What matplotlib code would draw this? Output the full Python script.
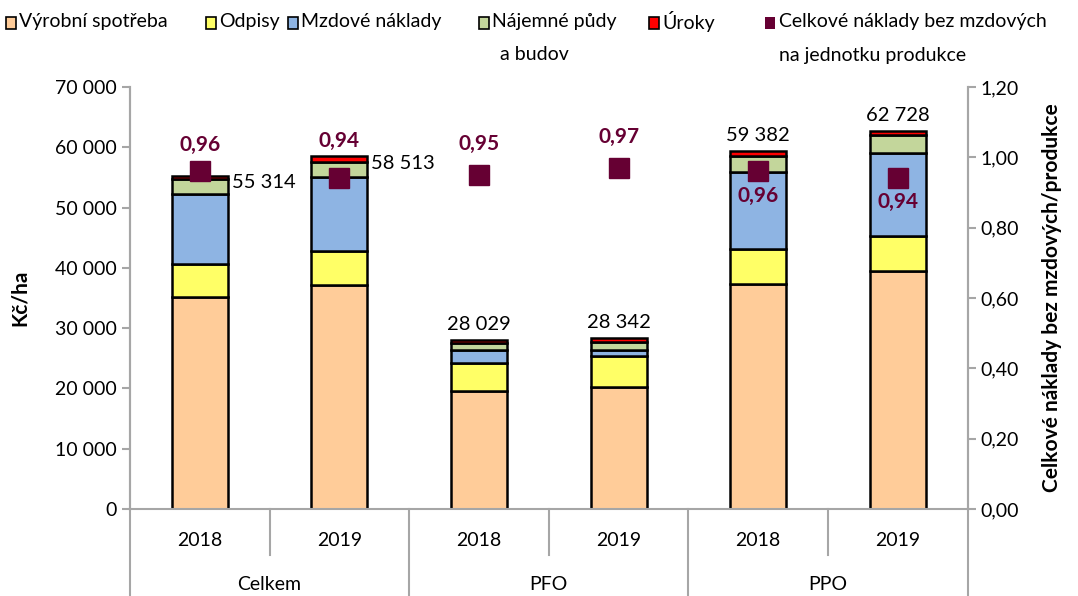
import numpy as np
import matplotlib
matplotlib.use("Agg")
import matplotlib.pyplot as plt
from matplotlib.patches import Rectangle
import matplotlib.transforms as mtransforms

plt.rcParams["font.family"] = ["Lato", "DejaVu Sans"]

# data (Kč/ha)
groups = ["Celkem", "PFO", "PPO"]
years = ["2018", "2019", "2018", "2019", "2018", "2019"]
vyrobni = [35200, 37100, 19600, 20300, 37400, 39500]
odpisy = [5400, 5700, 4600, 5000, 5700, 5800]
mzdove = [11600, 12200, 2200, 1100, 12800, 13700]
najemne = [2500, 2500, 1200, 1300, 2600, 3000]
uroky = [614, 1013, 429, 642, 882, 728]
totals = [55314, 58513, 28029, 28342, 59382, 62728]
ratio = [0.96, 0.94, 0.95, 0.97, 0.96, 0.94]

series = [
    ("Výrobní spotřeba", vyrobni, "#FFCC99"),
    ("Odpisy", odpisy, "#FFFF66"),
    ("Mzdové náklady", mzdove, "#8EB4E3"),
    ("Nájemné půdy\na budov", najemne, "#C3D69B"),
    ("Úroky", uroky, "#FF0000"),
]
marker_color = "#660033"
axis_gray = "#A6A6A6"

# vertical offsets (points) of the ratio labels, as placed in the original
ratio_label_dy = [19, 27, 22, 22, -18, -17]


def fmt_thousands(v):
    return f"{int(round(v)):,}".replace(",", " ")


fig = plt.figure(figsize=(10.78, 5.96), dpi=100)
ax = fig.add_axes([0.1206, 0.146, 0.777, 0.708])
ax2 = ax.twinx()

x = np.arange(len(years))
bw = 0.40
bottom = np.zeros(len(years))
for name, vals, col in series:
    ax.bar(x, vals, bw, bottom=bottom, color=col, edgecolor="black",
           linewidth=1.8, zorder=2)
    bottom += np.array(vals)

# totals
for i, t in enumerate(totals):
    if i < 2:
        ax.annotate(fmt_thousands(t), (x[i] + bw / 2, t), xytext=(3, -5),
                    textcoords="offset points", ha="left", va="center",
                    fontsize=14.5)
    else:
        ax.annotate(fmt_thousands(t), (x[i], t), xytext=(0, 5),
                    textcoords="offset points", ha="center", va="bottom",
                    fontsize=14.5)

ax.set_xlim(-0.5, 5.5)
ax.set_ylim(0, 70000)
ax.set_yticks(np.arange(0, 70001, 10000))
ax.set_yticklabels([fmt_thousands(v) for v in np.arange(0, 70001, 10000)],
                   fontsize=14)
ax.set_xticks([])
ax.set_ylabel("Kč/ha", fontsize=15, fontweight="bold", labelpad=18)

# ratio markers
ax2.plot(x, ratio, linestyle="none", marker="s", markersize=15,
         color=marker_color, zorder=3)
ax2.set_ylim(0, 1.2)
ax2.set_yticks(np.arange(0, 1.21, 0.2))
ax2.set_yticklabels([f"{v:.2f}".replace(".", ",") for v in np.arange(0, 1.21, 0.2)],
                    fontsize=14)
ax2.set_ylabel("Celkové náklady bez mzdových/produkce", fontsize=15,
               fontweight="bold", labelpad=16)
for i, r in enumerate(ratio):
    lab = f"{r:.2f}".replace(".", ",")
    ax2.annotate(lab, (x[i], r), xytext=(0, ratio_label_dy[i]),
                 textcoords="offset points", ha="center", va="center",
                 fontsize=15, fontweight="bold", color=marker_color)

for a in (ax, ax2):
    a.spines["top"].set_visible(False)
    for s in ("left", "right", "bottom"):
        a.spines[s].set_color(axis_gray)
        a.spines[s].set_linewidth(1.5)
    a.tick_params(axis="y", color=axis_gray, length=6, width=1.5)
ax2.spines["bottom"].set_visible(False)

# two-level category axis
trans = mtransforms.blended_transform_factory(ax.transData, ax.transAxes)
for xi, yr in zip(x, years):
    ax.text(xi, -0.075, yr, transform=trans, ha="center", va="center",
            fontsize=14)
for gi, g in enumerate(groups):
    ax.text(2 * gi + 0.5, -0.18, g, transform=trans, ha="center",
            va="center", fontsize=14)
for xb in [-0.5, 1.5, 3.5, 5.5]:
    ax.plot([xb, xb], [0, -0.21], transform=trans, color=axis_gray,
            lw=1.5, clip_on=False)
for xb in [0.5, 2.5, 4.5]:
    ax.plot([xb, xb], [0, -0.11], transform=trans, color=axis_gray,
            lw=1.5, clip_on=False)

# legend drawn along the top
leg_x = [6, 206, 288, 479, 649]
for (name, _, col), lx in zip(series, leg_x):
    fig.patches.append(Rectangle((lx / 1078, 1 - 29 / 596), 10 / 1078, 12 / 596,
                                 transform=fig.transFigure, facecolor=col,
                                 edgecolor="black", linewidth=1.2))
    first, *rest = name.split("\n")
    fig.text((lx + 13) / 1078, 1 - 22 / 596, first, ha="left", va="center",
             fontsize=14)
    if rest:
        fig.text((lx + 21) / 1078, 1 - 55 / 596, rest[0], ha="left",
                 va="center", fontsize=14)
fig.patches.append(Rectangle((765 / 1078, 1 - 29 / 596), 10 / 1078, 12 / 596,
                             transform=fig.transFigure, facecolor=marker_color,
                             edgecolor="none"))
fig.text(779 / 1078, 1 - 22 / 596, "Celkové náklady bez mzdových", ha="left",
         va="center", fontsize=14)
fig.text(779 / 1078, 1 - 55 / 596, "na jednotku produkce", ha="left",
         va="center", fontsize=14)

fig.savefig("out.png", dpi=100)
